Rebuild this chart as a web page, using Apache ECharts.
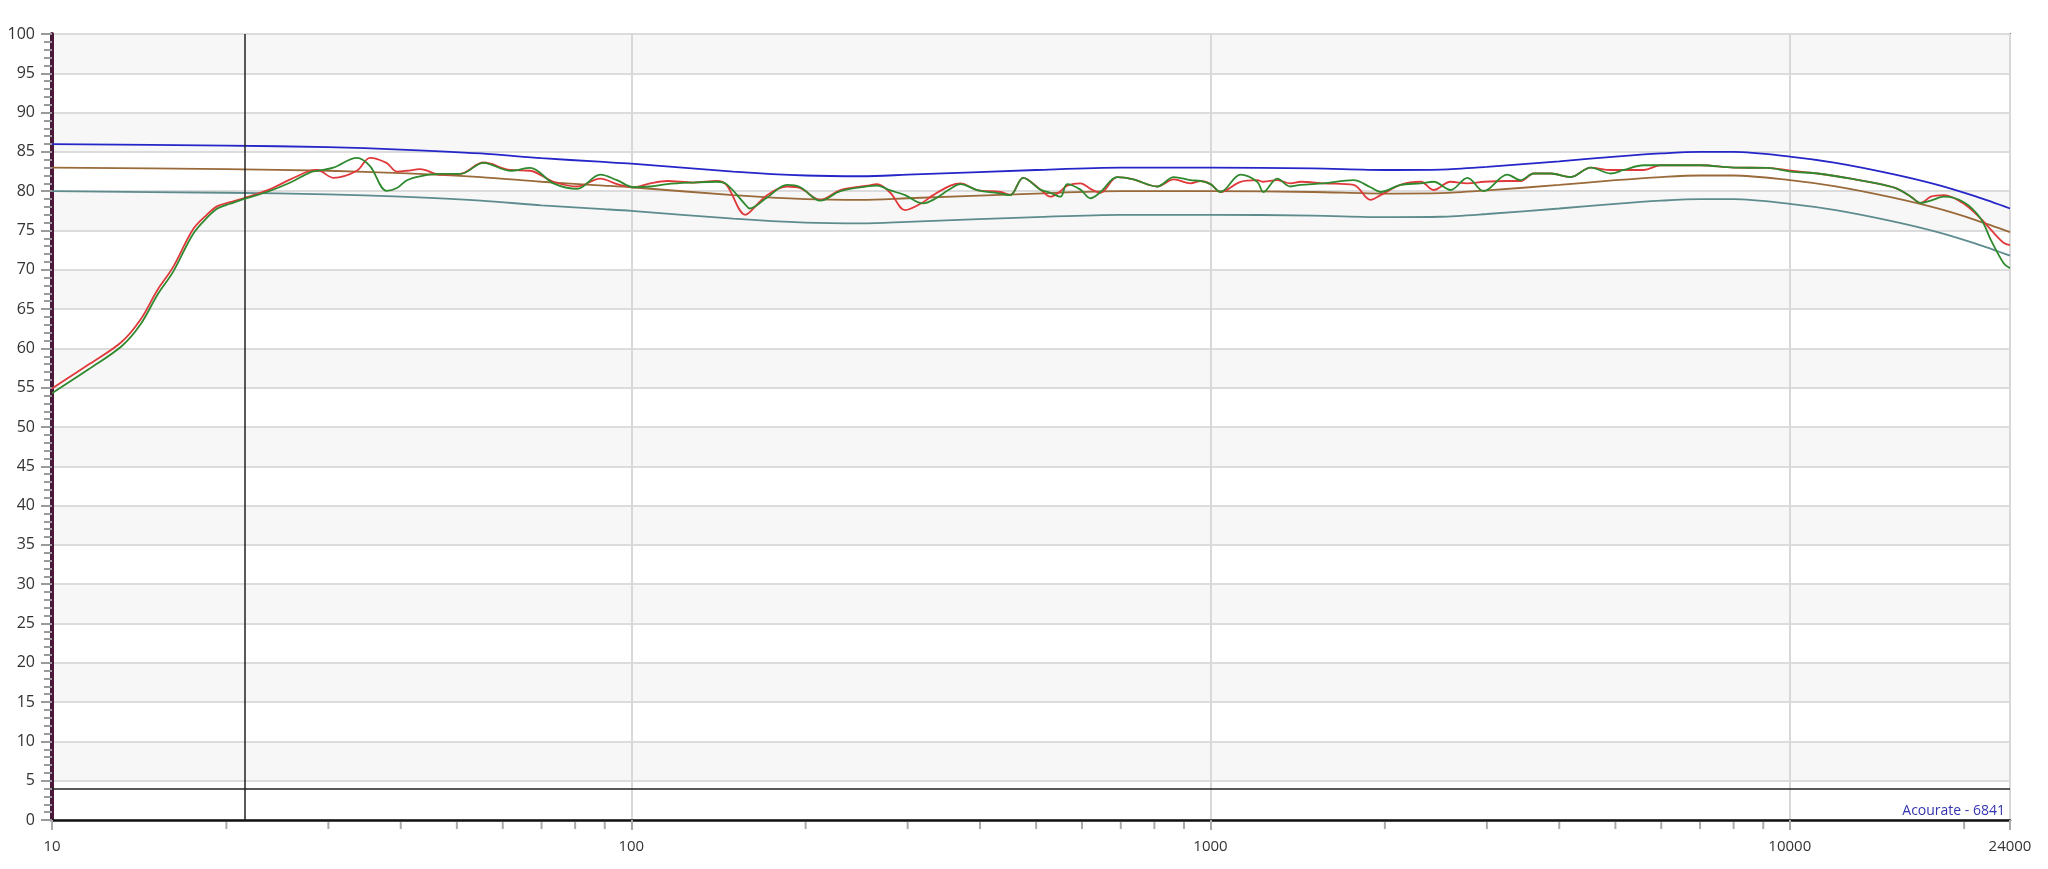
<!DOCTYPE html>
<html>
<head>
<meta charset="utf-8">
<script src="https://cdn.jsdelivr.net/npm/echarts@6/dist/echarts.min.js"></script>
<style>
html,body{margin:0;padding:0;background:#fff;}
#chart{width:2048px;height:869px;}
</style>
</head>
<body>
<div id="chart"></div>
<script>
// ---- data ----
const targetFreq = [10, 20, 30, 40, 55, 70, 88, 100, 150, 200, 250, 300, 500, 700, 1000, 1500, 2000, 2500, 3000, 4000, 5000, 6000, 7000, 8000, 10000, 12000, 15000, 18000, 21000, 24000];
const upperDb  = [86.0, 85.8, 85.6, 85.3, 84.8, 84.2, 83.75, 83.5, 82.5, 82.0, 81.9, 82.1, 82.7, 83.0, 83.0, 82.9, 82.7, 82.75, 83.1, 83.8, 84.4, 84.8, 85.0, 85.0, 84.4, 83.6, 82.2, 80.8, 79.3, 77.8];
const targetDb = [83.0, 82.8, 82.6, 82.3, 81.8, 81.2, 80.75, 80.5, 79.5, 79.0, 78.9, 79.1, 79.7, 80.0, 80.0, 79.9, 79.7, 79.75, 80.1, 80.8, 81.4, 81.8, 82.0, 82.0, 81.4, 80.6, 79.2, 77.8, 76.3, 74.8];
const lowerDb  = [80.0, 79.8, 79.6, 79.3, 78.8, 78.2, 77.75, 77.5, 76.5, 76.0, 75.9, 76.1, 76.7, 77.0, 77.0, 76.9, 76.7, 76.75, 77.1, 77.8, 78.4, 78.8, 79.0, 79.0, 78.4, 77.6, 76.2, 74.8, 73.3, 71.8];

const measFreq = [10, 11.6, 13.2, 14.2, 15.2, 16.2, 17.5, 18.5, 19.3, 20.3, 21.4, 23.5, 25.8, 27.9, 28.7, 30.6, 33.6, 35.4, 37.8, 39.4, 41.0, 43.2, 46.8, 50.7, 55.6, 61.8, 66.9, 73.4, 80.7, 88.4, 94.5, 101, 107.8, 115.3, 128, 140.6, 146, 157.4, 160, 171.6, 185.8, 195.8, 212, 229.6, 255.4, 265.7, 280, 297, 319, 332, 355.6, 370, 395.5, 433.7, 451, 475, 508.6, 529, 550.8, 565.6, 596.4, 620.5, 645.7, 690, 736, 809, 864.5, 923.6, 961, 1000, 1040.6, 1127, 1204, 1234, 1304, 1374, 1430, 1567, 1766, 1889, 1966, 2128, 2306, 2427, 2597, 2776, 2962, 3254, 3431, 3614, 3866, 4186, 4532, 4908, 5168, 5596, 5987, 7020, 8005, 9152, 10040, 11165, 12752, 14531, 15346, 16180, 16840, 17520, 18450, 19980, 21370, 22240, 23420, 24000];
const redDb = [54.9, 58.0, 60.85, 63.6, 67.4, 70.4, 75.1, 77.0, 78.1, 78.6, 79.1, 80.1, 81.5, 82.6, 82.7, 81.7, 82.6, 84.25, 83.6, 82.5, 82.6, 82.8, 82.1, 82.2, 83.65, 82.7, 82.6, 81.2, 80.6, 81.6, 80.9, 80.5, 81.0, 81.3, 81.1, 81.3, 80.8, 77.0, 77.3, 79.5, 80.6, 80.4, 78.9, 80.15, 80.7, 80.9, 79.8, 77.6, 78.6, 79.5, 80.7, 81.0, 80.15, 79.9, 79.5, 81.7, 80.2, 79.3, 80.0, 80.7, 81.0, 80.3, 79.8, 81.8, 81.5, 80.6, 81.5, 81.0, 81.3, 80.9, 79.9, 81.2, 81.4, 81.2, 81.4, 81.0, 81.2, 81.0, 80.8, 78.9, 79.5, 80.8, 81.2, 80.15, 81.2, 81.0, 81.2, 81.3, 81.3, 82.25, 82.25, 81.8, 83.0, 82.7, 82.7, 82.7, 83.3, 83.3, 83.0, 82.97, 82.6, 82.25, 81.6, 80.8, 80.3, 79.3, 78.5, 79.3, 79.5, 78.4, 76.5, 75.1, 73.4, 73.15];
const greenDb = [54.3, 57.4, 60.3, 63.0, 66.8, 69.8, 74.5, 76.6, 77.8, 78.4, 79.0, 79.9, 81.1, 82.4, 82.6, 83.0, 84.25, 83.2, 80.05, 80.4, 81.4, 81.9, 82.2, 82.2, 83.6, 82.6, 82.97, 81.0, 80.3, 82.1, 81.4, 80.5, 80.6, 80.9, 81.1, 81.2, 80.9, 78.3, 77.8, 79.2, 80.8, 80.5, 78.8, 80.0, 80.6, 80.7, 80.1, 79.5, 78.45, 78.9, 80.3, 80.9, 80.15, 79.7, 79.5, 81.7, 80.2, 79.8, 79.3, 80.9, 80.2, 79.1, 79.9, 81.8, 81.5, 80.6, 81.8, 81.4, 81.3, 80.9, 79.9, 82.1, 81.2, 79.9, 81.6, 80.6, 80.8, 81.0, 81.4, 80.5, 79.9, 80.8, 81.0, 81.2, 80.15, 81.7, 80.0, 82.1, 81.4, 82.25, 82.25, 81.8, 83.0, 82.25, 82.7, 83.3, 83.3, 83.3, 83.0, 82.97, 82.5, 82.25, 81.6, 80.8, 80.3, 79.3, 78.5, 78.8, 79.3, 78.6, 76.5, 73.8, 70.8, 70.2];

const xMin = 10, xMax = 24000;
const yMin = 0, yMax = 100, yStep = 5;
const xMinorTicks = [20, 30, 40, 50, 60, 70, 80, 90, 200, 300, 400, 500, 600, 700, 800, 900, 2000, 3000, 4000, 5000, 6000, 7000, 8000, 9000, 20000];
const cursorFreq = 21.5;
const cursorLevel = 4;
const footerText = 'Acourate - 6841';

function pairs(xs, ys) { return xs.map((x, i) => [x, ys[i]]); }

const chart = echarts.init(document.getElementById('chart'), null, {renderer: 'canvas'});
const font = '"Open Sans", "Noto Sans", sans-serif';

chart.setOption({
  animation: false,
  backgroundColor: '#ffffff',
  grid: {
    left: 52, right: 38, top: 34, bottom: 49,
    containLabel: false, outerBoundsMode: 'none',
    show: true, borderColor: '#808080', borderWidth: 2, backgroundColor: 'transparent'
  },
  xAxis: {
    type: 'log', logBase: 10, min: xMin, max: xMax,
    axisLine: {show: true, lineStyle: {color: '#111', width: 2.5}},
    axisTick: {show: true, length: 10, lineStyle: {color: '#aaa', width: 2}},
    axisLabel: {
      show: true, margin: 19, color: '#333', fontSize: 15, fontFamily: font,
      formatter: v => String(Math.round(v))
    },
    splitLine: {show: true, lineStyle: {color: '#d8d8d8', width: 2}},
    minorTick: {show: false}
  },
  yAxis: {
    type: 'value', min: yMin, max: yMax, interval: yStep,
    axisLine: {show: true, lineStyle: {color: '#4a1838', width: 4}},
    axisTick: {show: true, length: 11, lineStyle: {color: '#9a9a9a', width: 2}},
    minorTick: {show: true, splitNumber: 5, length: 8, lineStyle: {color: '#9a9a9a', width: 2}},
    axisLabel: {show: true, margin: 17, color: '#333', fontSize: 16, fontFamily: font},
    splitLine: {show: true, lineStyle: {color: '#dcdcdc', width: 2}},
    splitArea: {show: true, areaStyle: {color: ['#ffffff', '#f7f7f7']}}
  },
  graphic: [{
    type: 'text', right: 43, bottom: 51, z: 100,
    style: {text: footerText, fill: '#3535b0', font: '14px ' + font}
  }],
  series: [
    {
      name: 'lower', type: 'line', data: pairs(targetFreq, lowerDb), showSymbol: false, smooth: 0.3,
      lineStyle: {color: '#5e8c8e', width: 1.8}, z: 3
    },
    {
      name: 'target', type: 'line', data: pairs(targetFreq, targetDb), showSymbol: false, smooth: 0.3,
      lineStyle: {color: '#9a6a3a', width: 1.8}, z: 3
    },
    {
      name: 'upper', type: 'line', data: pairs(targetFreq, upperDb), showSymbol: false, smooth: 0.3,
      lineStyle: {color: '#2626c8', width: 1.8}, z: 3
    },
    {
      name: 'left', type: 'line', data: pairs(measFreq, redDb), showSymbol: false, smooth: 0.35,
      lineStyle: {color: '#e0393b', width: 1.8}, z: 4,
      markLine: {
        silent: true, symbol: 'none', label: {show: false},
        lineStyle: {color: '#222', width: 1.5, type: 'solid'},
        data: [{xAxis: cursorFreq}, {yAxis: cursorLevel}]
      }
    },
    {
      name: 'right', type: 'line', data: pairs(measFreq, greenDb), showSymbol: false, smooth: 0.35,
      lineStyle: {color: '#2f8a2f', width: 1.8}, z: 5
    },
    {
      name: 'minorTicks', type: 'custom', clip: false, silent: true, z: 6,
      data: xMinorTicks.map(f => [f, yMin]),
      renderItem: function (params, api) {
        const p = api.coord([api.value(0), api.value(1)]);
        return {
          type: 'line',
          shape: {x1: p[0], y1: p[1] + 2, x2: p[0], y2: p[1] + 9},
          style: {stroke: '#aaa', lineWidth: 2}
        };
      }
    }
  ]
});
</script>
</body>
</html>
